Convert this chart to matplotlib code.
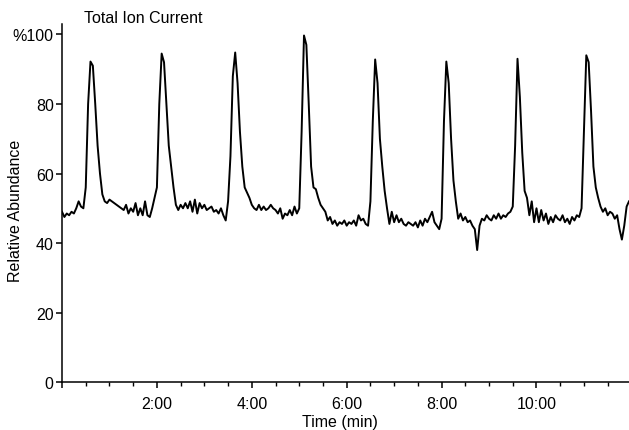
import matplotlib
matplotlib.use("Agg")
import matplotlib.pyplot as plt
from matplotlib.ticker import MultipleLocator, FuncFormatter
import numpy as np

plt.rcParams['font.family'] = ['Liberation Sans', 'DejaVu Sans']

# total ion current, one scan every 0.05 min (%)
scan_step = 0.05
tic = [
    # 0:00 - 0:57
    49, 47.5, 48.5, 48, 49, 48.5, 50, 52, 50.5, 50,
    56, 80, 92.2, 91, 80, 68, 60, 54, 52, 51.5,
    # 1:00 - 1:57
    52.5, 52, 51.5, 51, 50.5, 50, 49.5, 51, 48.5, 50,
    49, 51.5, 48, 50, 48, 52, 48, 47.5, 50, 53,
    # 2:00 - 2:57
    56, 80, 94.5, 92, 80, 68, 62, 56, 51, 49.5,
    51, 50, 51.5, 50, 52, 49, 52.5, 48.5, 51.5, 50,
    # 3:00 - 3:57
    51, 49.5, 50, 50.5, 49, 49.5, 48.5, 50, 48, 46.5,
    52, 65, 88, 94.8, 86, 72, 62, 56, 54.5, 53,
    # 4:00 - 4:57
    51, 50, 49.5, 51, 49.5, 50.5, 49.5, 50, 51, 50,
    49.5, 48.5, 50, 47, 48.5, 48, 49.5, 48, 50.5, 48.5,
    # 5:00 - 5:57
    50, 72, 99.7, 97, 80, 62, 56, 55.5, 53, 51,
    50, 49, 46.5, 47.5, 45.5, 46.5, 45, 46, 45.5, 46.5,
    # 6:00 - 6:57
    45, 46, 45.5, 46.5, 45, 48, 46.5, 47, 45.5, 45,
    52, 75, 92.8, 86, 70, 62, 55, 50, 45.5, 49,
    # 7:00 - 7:57
    46, 48, 46, 47, 45.5, 45, 46, 45.5, 45, 46,
    44.5, 46.5, 45, 47, 46, 47.5, 49, 46, 45, 44,
    # 8:00 - 8:57
    47, 75, 92.2, 86, 70, 58, 52, 47, 48.5, 46.5,
    47.5, 46, 46.5, 45, 44, 38, 45, 47, 46.5, 48,
    # 9:00 - 9:57
    47, 46.5, 48, 47, 48.5, 47, 48, 47.5, 48.5, 49,
    50.5, 68, 93, 82, 66, 55, 53, 48, 52, 46,
    # 10:00 - 10:57
    50, 46, 49.5, 46.5, 48.5, 45.5, 47.5, 46, 48, 47,
    46.5, 48, 46, 47, 45.5, 47.5, 46.5, 48, 47.5, 50,
    # 11:00 - 11:57
    72, 94, 92, 78, 62, 56, 53, 50.5, 49, 50,
    48, 49, 48.5, 47, 48, 44, 41, 45, 50.5, 52,
]
minutes = np.arange(len(tic)) * scan_step

y_ticks = [0, 20, 40, 60, 80, 100]
y_labels = ['0', '20', '40', '60', '80', '%100']

fig = plt.figure(figsize=(6.29, 4.31), dpi=100)
ax = fig.add_axes([0.0986, 0.111, 0.9014, 0.831])

ax.plot(minutes, tic, color='black', linewidth=1.4)

ax.set_xlim(0, 11.95)
ax.set_ylim(0, 103)

ax.spines['top'].set_visible(False)
ax.spines['right'].set_visible(False)
for s in ('left', 'bottom'):
    ax.spines[s].set_linewidth(1.1)

ax.set_yticks(y_ticks)
ax.set_yticklabels(y_labels)
ax.xaxis.set_major_locator(MultipleLocator(2))
ax.xaxis.set_minor_locator(MultipleLocator(0.5))
ax.xaxis.set_major_formatter(FuncFormatter(lambda v, p: '' if v == 0 else '%d:00' % v))

ax.tick_params(axis='y', direction='out', length=4, width=1.1, pad=2, labelsize=11.5)
ax.tick_params(axis='x', which='major', direction='out', length=4, width=1.1, pad=6, labelsize=11.5)
ax.tick_params(axis='x', which='minor', direction='out', length=3, width=1.0)

ax.set_xlabel('Time (min)', fontsize=11.5)
ax.xaxis.set_label_coords(0.49, -0.088)
ax.set_ylabel('Relative Abundance', fontsize=11.5)
ax.yaxis.set_label_coords(-0.069, 0.48)

fig.text(0.134, 0.958, 'Total Ion Current', fontsize=11.5, ha='left', va='center')

fig.savefig('out.png', dpi=100)
